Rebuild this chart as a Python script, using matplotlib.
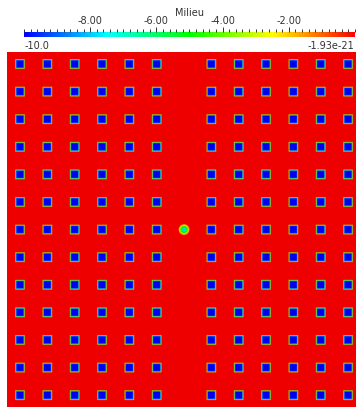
import numpy as np
import matplotlib
matplotlib.use("Agg")
import matplotlib.pyplot as plt
from matplotlib.colors import ListedColormap, hsv_to_rgb

# scalar range shown on the colour legend
vmin, vmax = -10.0, -1.93e-21
title = "Milieu"
major_ticks = [-8.0, -6.0, -4.0, -2.0]

# lattice of low-value squares (column 6 is empty except the centre dot)
square_cols = [0, 1, 2, 3, 4, 5, 7, 8, 9, 10, 11, 12]
square_rows = list(range(13))
square_value = -10.0
dot_col, dot_row = 6, 6
dot_value = -8.5

# blue -> red rainbow (HSV interpolation)
t = np.linspace(0, 1, 256)
hsv = np.stack([0.6667 * (1 - t), np.ones_like(t), np.ones_like(t)], axis=1)
rainbow = ListedColormap(hsv_to_rgb(hsv))
field_cmap = ListedColormap(hsv_to_rgb(hsv) * 0.94)

# build the field in cell units
n = 13
res = 40
xs = (np.arange(n * res) + 0.5) / res - 0.5
X, Y = np.meshgrid(xs, xs)
field = np.zeros_like(X)
half, ramp = 0.13, 0.05
for r in square_rows:
    for c in square_cols:
        d = np.maximum(np.abs(X - c), np.abs(Y - r))
        w = np.clip((half + ramp - d) / ramp, 0, 1)
        field = np.minimum(field, square_value * w)
rd = np.hypot(X - dot_col, Y - dot_row)
field = np.minimum(field, dot_value * np.clip(1 - rd / 0.2, 0, 1) ** 0.7)

W, H = 356, 407
fig = plt.figure(figsize=(W / 100, H / 100), dpi=100)

ax = fig.add_axes([7 / W, 0, (W - 7) / W, (H - 52) / H])
ax.imshow(field, cmap=field_cmap, vmin=vmin, vmax=0, extent=(-0.5, 12.5, 12.5, -0.5),
          interpolation="bilinear", aspect="auto")
ax.set_xlim(-0.476, 12.29)
ax.set_ylim(12.43, -0.435)
ax.axis("off")

# colour legend
cax = fig.add_axes([24 / W, 1 - 37.5 / H, 331 / W, 6 / H])
grad = np.linspace(vmin, 0, 512)[None, :]
cax.imshow(grad, cmap=rainbow, vmin=vmin, vmax=0, extent=(vmin, 0, 0, 1), aspect="auto")
cax.set_xlim(vmin, 0)
cax.set_ylim(0, 1)
for s in cax.spines.values():
    s.set_visible(False)
cax.xaxis.set_ticks_position("top")
cax.set_xticks(major_ticks)
cax.set_xticklabels(["%.2f" % v for v in major_ticks], fontsize=7, color="#333333")
cax.set_xticks(np.arange(vmin, 0.01, 0.2), minor=True)
cax.tick_params(axis="x", which="major", length=3.5, width=0.7, pad=0.5, color="#333333")
cax.tick_params(axis="x", which="minor", length=2.2, width=0.7, color="#333333")
cax.set_yticks([])
fig.text(25 / W, 1 - 46 / H, "-10.0", fontsize=7, color="#333333", va="center", ha="left")
fig.text(354 / W, 1 - 46 / H, "-1.93e-21", fontsize=7, color="#333333", va="center", ha="right")
fig.text(189 / W, 1 - 13 / H, title, fontsize=7, color="#333333", va="center", ha="center")

fig.savefig("out.png", dpi=100)
